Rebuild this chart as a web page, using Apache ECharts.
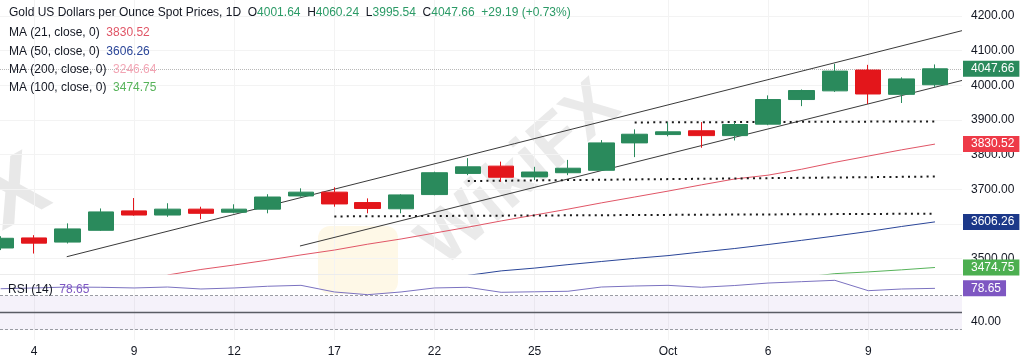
<!DOCTYPE html>
<html><head><meta charset="utf-8">
<script src="https://cdn.jsdelivr.net/npm/echarts@6/dist/echarts.min.js"></script>
<style>html,body{margin:0;padding:0;background:#fff}#c{width:1024px;height:364px}</style>
</head><body><div id="c"></div>
<script>
// ---- data ----
const dates = ['Sep 3','Sep 4','Sep 5','Sep 8','Sep 9','Sep 10','Sep 11','Sep 12','Sep 15','Sep 16','Sep 17','Sep 18','Sep 19','Sep 22','Sep 23','Sep 24','Sep 25','Sep 26','Sep 29','Sep 30','Oct 1','Oct 2','Oct 3','Oct 6','Oct 7','Oct 8','Oct 9','Oct 10','Oct 13'];
const openP  = [3531,3560,3548,3582,3638,3626,3643,3634,3643,3681,3692,3662,3644,3685,3746,3767,3736,3748,3755,3834,3858,3869,3855,3888,3959,3984,4044,3974,4001.64];
const closeP = [3559,3545,3586,3635,3626,3643,3631,3643,3678,3692,3658,3645,3684,3748,3765,3735,3750,3761,3834,3859,3866,3855,3887,3959,3985,4041,3975,4018.47,4047.66];
const lowP   = [3525,3515,3544,3580,3624,3621,3614,3631,3631,3679,3650,3631,3631,3683,3741,3722,3727,3741,3753,3793,3853,3820,3841,3885,3940,3981,3946,3949,3995.54];
const highP  = [3565,3568,3602,3645,3675,3660,3650,3657,3686,3703,3706,3674,3686,3751,3790,3780,3765,3785,3842,3873,3894,3894,3894,3971,3988,4062,4059,4023,4060.24];
const ma21   = [null,null,null,null,null,3453,3469,3482,3496,3511,3525,3542,3557,3574,3591,3609,3626,3643,3661,3678,3695,3713,3730,3741,3758,3778,3796,3814,3830.52];
const ma50   = [null,null,null,null,null,null,null,null,null,null,null,null,null,null,3452,3465,3473,3483,3492,3501,3509,3519.5,3529.5,3541,3553,3565.5,3578.5,3593,3606.26];
const ma100  = [null,null,null,null,null,null,null,null,null,null,null,null,null,null,null,null,null,null,null,null,null,null,null,null,3446,3457,3462,3468,3474.75];
const ma200Last = 3246.64;
const rsi14  = [78.2,79.1,80.2,79.9,79.1,80.2,77.9,79.1,81.1,82.2,74.4,71.2,74.4,79.1,79.9,74.0,74.6,75.2,80.2,81.4,82.2,79.9,82.0,84.9,86.5,88.1,75.9,77.9,78.65];
const timeTickIndex = [1,4,7,10,13,16,20,23,26];
const timeTickLabels = ['4','9','12','17','22','25','Oct','6','9'];
const priceTicks = [3500,3600,3700,3800,3900,4000,4100,4200];
const rsiTicks = [40];
const rsiLevels = [70,50,30];
const upperChannel = [[1.98,3505.8],[28.81,4157.6]];
const lowerChannel = [[8.97,3536.7],[28.81,4014]];
const levelA = [[19,3893],[28,3896]];
const levelB = [[14,3724],[28,3737]];
const levelC = [[10,3622],[28,3630]];

// ---- chart ----
const n = dates.length, L = n - 1;
const pairs = arr => arr.map((v,i)=> v==null?null:[i,v]).filter(p=>p);
const candles = dates.map((d,i)=>[i, openP[i], closeP[i], lowP[i], highP[i]]);
const f2 = v => v.toFixed(2);
const chg = closeP[L]-closeP[L-1];
const pct = chg/closeP[L-1]*100;
const FONT = 'Liberation Sans, Arial, sans-serif';
const UP = '#2a8a5c', DOWN = '#e3161b', GREENTXT = '#2b9a66';
const C21 = '#e05566', C50 = '#2a4598', C100 = '#57b35a', C200 = '#f2a5b4', CRSI = '#7e57c2';

function tag(value, bg){
  return {yAxis: value, lineStyle:{color:'rgba(0,0,0,0)', width:0},
    label:{show:true, position:'end', distance:1, formatter: f2(value), color:'#fff', backgroundColor:bg,
      fontSize:12, fontFamily:FONT, padding:[2,5,1,8], lineHeight:13}};
}

const chart = echarts.init(document.getElementById('c'), null, {renderer:'canvas'});
const xBase = {type:'value', min:-0.02, max:28.81};
chart.setOption({
  animation:false,
  backgroundColor:'#fff',
  textStyle:{fontFamily:FONT},
  grid:[{left:0, top:0, width:962, height:274},{left:0, top:274, width:962, height:66}],
  xAxis:[
    Object.assign({gridIndex:0, axisLabel:{show:false}, axisTick:{show:false, customValues:timeTickIndex},
      axisLine:{show:true, onZero:false, lineStyle:{color:'#ececec'}}, splitLine:{show:true, lineStyle:{color:'#f3f3f3'}}}, xBase),
    Object.assign({gridIndex:1, axisTick:{show:false, customValues:timeTickIndex},
      axisLabel:{customValues:timeTickIndex, margin:6, color:'#131722', fontSize:12,
        formatter: v => { const k = timeTickIndex.indexOf(Math.round(v)); return k<0?'':timeTickLabels[k]; }},
      axisLine:{show:false}, splitLine:{show:true, lineStyle:{color:'#f3f3f3'}}}, xBase)
  ],
  yAxis:[
    {gridIndex:0, type:'value', position:'right', min:3456, max:4246,
      axisTick:{show:false, customValues:priceTicks}, axisLine:{show:false},
      axisLabel:{customValues:priceTicks, formatter:v=>f2(v), color:'#131722', fontSize:12, margin:9},
      splitLine:{show:true, lineStyle:{color:'#f3f3f3'}}},
    {gridIndex:1, type:'value', position:'right', min:17.88, max:95.53,
      axisTick:{show:false, customValues:rsiTicks}, axisLine:{show:false},
      axisLabel:{customValues:rsiTicks, formatter:v=>f2(v), color:'#131722', fontSize:12, margin:9},
      splitLine:{show:false}}
  ],
  series:[
    {type:'line', name:'MA21', data:pairs(ma21), symbol:'none', lineStyle:{color:C21, width:1}, z:3,
      markLine:{symbol:['none','none'], silent:true, data:[tag(ma21[L], '#ee3a48')]}},
    {type:'line', name:'MA50', data:pairs(ma50), symbol:'none', lineStyle:{color:C50, width:1}, z:3,
      markLine:{symbol:['none','none'], silent:true, data:[tag(ma50[L], '#1c3889')]}},
    {type:'line', name:'MA100', data:pairs(ma100), symbol:'none', lineStyle:{color:C100, width:1}, z:3,
      markLine:{symbol:['none','none'], silent:true, data:[tag(ma100[L], '#4caf50')]}},
    {type:'line', data:upperChannel, symbol:'none', lineStyle:{color:'#3a3a3a', width:1}, z:3},
    {type:'line', data:lowerChannel, symbol:'none', lineStyle:{color:'#3a3a3a', width:1}, z:3},
    {type:'line', data:levelA, symbol:'none', lineStyle:{color:'#1a1a1a', width:2, type:[2,4.2]}, z:3},
    {type:'line', data:levelB, symbol:'none', lineStyle:{color:'#1a1a1a', width:2, type:[2,4.2]}, z:3},
    {type:'line', data:levelC, symbol:'none', lineStyle:{color:'#1a1a1a', width:2, type:[2,4.2]}, z:3},
    {type:'candlestick', name:'Gold', data:candles, barWidth:26, z:4,
      itemStyle:{color:UP, color0:DOWN, borderColor:UP, borderColor0:DOWN, borderWidth:1},
      markLine:{symbol:['none','none'], silent:true, z:1,
        data:[Object.assign(tag(closeP[L], UP), {lineStyle:{color:'#b8b8b8', type:'dotted', width:1, opacity:1}})]}},
    {type:'line', name:'RSI', xAxisIndex:1, yAxisIndex:1, data:pairs(rsi14), symbol:'none',
      lineStyle:{color:'#7b72c0', width:1},
      markArea:{silent:true, itemStyle:{color:'rgba(126,87,194,0.08)'}, data:[[{yAxis:rsiLevels[2]},{yAxis:rsiLevels[0]}]]},
      markLine:{symbol:['none','none'], silent:true, label:{show:false},
        data:[
          {yAxis:rsiLevels[0], lineStyle:{color:'#9a9ca3', type:[3,2], width:1}},
          {yAxis:rsiLevels[1], lineStyle:{color:'#5a5c64', type:'solid', width:1.3}},
          {yAxis:rsiLevels[2], lineStyle:{color:'#9a9ca3', type:[3,2], width:1}},
          tag(rsi14[L], CRSI)
        ]}}
  ],
  graphic:[
    {type:'text', x:520, y:175, rotation:0.72, z:-10, silent:true,
      style:{text:'WikiFX', fontSize:72, fontWeight:'bold', fontFamily:FONT, fill:'rgba(140,140,140,0.18)', align:'center', verticalAlign:'middle'}},
    {type:'rect', z:-11, silent:true, shape:{x:318, y:226, width:80, height:68, r:12}, style:{fill:'rgba(250,214,120,0.18)'}},
    {type:'text', x:16, y:195, rotation:0.5, z:-10, silent:true,
      style:{text:'X', fontSize:90, fontWeight:'bold', fontFamily:FONT, fill:'rgba(140,140,140,0.2)', align:'center', verticalAlign:'middle'}},
    {type:'text', left:9, top:7, z:100, silent:true, style:{fontFamily:FONT, fontSize:12, fill:'#131722',
      text:`{t|Gold US Dollars per Ounce Spot Prices, 1D}  {k|O}{g|${f2(openP[L])}}  {k|H}{g|${f2(highP[L])}}  {k|L}{g|${f2(lowP[L])}}  {k|C}{g|${f2(closeP[L])}}  {g|${chg>=0?'+':''}${f2(chg)} (${chg>=0?'+':''}${f2(pct)}%)}`,
      rich:{t:{fill:'#131722', fontSize:12, fontFamily:FONT}, k:{fill:'#131722', fontSize:12, fontFamily:FONT}, g:{fill:GREENTXT, fontSize:12, fontFamily:FONT}}}},
    {type:'text', left:9, top:27, z:100, silent:true, style:{fontFamily:FONT, fontSize:12,
      text:`{k|MA (21, close, 0)}  {v|${f2(ma21[L])}}`, rich:{k:{fill:'#131722', fontSize:12, fontFamily:FONT}, v:{fill:C21, fontSize:12, fontFamily:FONT}}}},
    {type:'text', left:9, top:46, z:100, silent:true, style:{fontFamily:FONT, fontSize:12,
      text:`{k|MA (50, close, 0)}  {v|${f2(ma50[L])}}`, rich:{k:{fill:'#131722', fontSize:12, fontFamily:FONT}, v:{fill:C50, fontSize:12, fontFamily:FONT}}}},
    {type:'text', left:9, top:64, z:100, silent:true, style:{fontFamily:FONT, fontSize:12,
      text:`{k|MA (200, close, 0)}  {v|${f2(ma200Last)}}`, rich:{k:{fill:'#131722', fontSize:12, fontFamily:FONT}, v:{fill:C200, fontSize:12, fontFamily:FONT}}}},
    {type:'text', left:9, top:82, z:100, silent:true, style:{fontFamily:FONT, fontSize:12,
      text:`{k|MA (100, close, 0)}  {v|${f2(ma100[L])}}`, rich:{k:{fill:'#131722', fontSize:12, fontFamily:FONT}, v:{fill:C100, fontSize:12, fontFamily:FONT}}}},
    {type:'text', left:8, top:284, z:100, silent:true, style:{fontFamily:FONT, fontSize:12,
      text:`{k|RSI (14)}  {v|${f2(rsi14[L])}}`, rich:{k:{fill:'#131722', fontSize:12, fontFamily:FONT}, v:{fill:CRSI, fontSize:12, fontFamily:FONT}}}}
  ]
});
</script>
</body></html>
